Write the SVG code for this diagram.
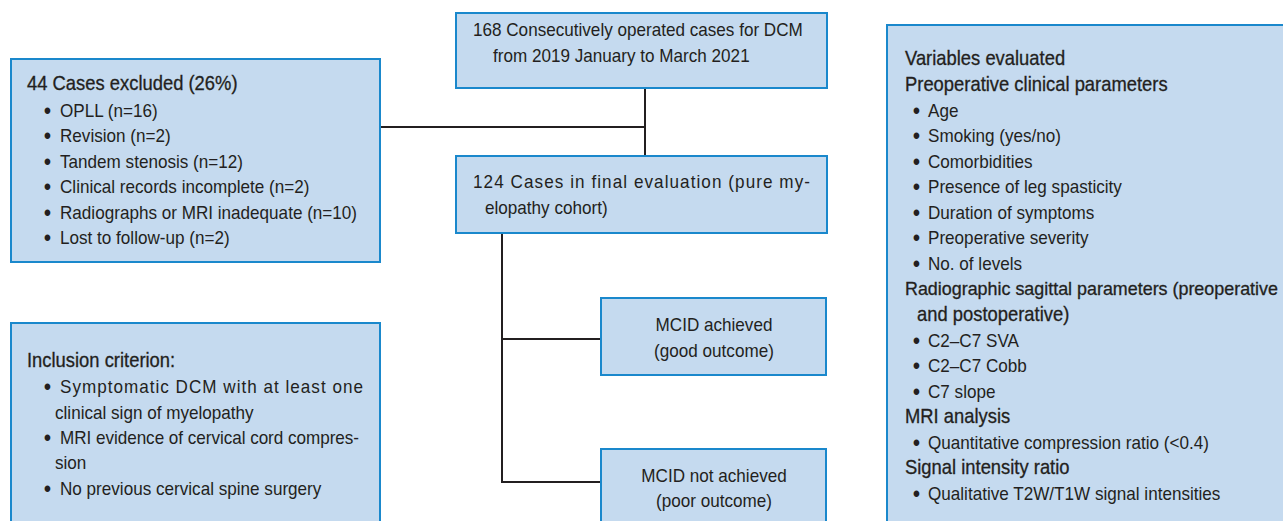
<svg xmlns="http://www.w3.org/2000/svg" width="1283" height="521" viewBox="0 0 1283 521">
<style>
.box{fill:#c5daef;stroke:#1a88cc;stroke-width:2}
text{font-family:"Liberation Sans",Arial,sans-serif;fill:#231f20;font-size:18.6px}
.h{font-size:20px;stroke:#231f20;stroke-width:0.3}
.c{text-anchor:middle}
.b{font-size:23px}
.ln{stroke:#231f20;stroke-width:2;fill:none}
</style>
<rect width="1283" height="521" fill="#ffffff"/>
<g id="connectors">
<path class="ln" d="M380,127 H645"/>
<path class="ln" d="M645,88 V156"/>
<path class="ln" d="M502,233 V482 H601"/>
<path class="ln" d="M502,339 H601"/>
</g>
<g id="excluded">
<rect class="box" x="11" y="59" width="369" height="203"/>
<g transform="scale(0.92,1)">
<text class="h" x="29.35" y="90.5">44 Cases excluded (26%)</text>
<text y="117"><tspan class="b" x="47.5" dy="2">•</tspan><tspan x="65.22" dy="-2">OPLL (n=16)</tspan></text>
<text y="142.5"><tspan class="b" x="47.5" dy="2">•</tspan><tspan x="65.22" dy="-2">Revision (n=2)</tspan></text>
<text y="168"><tspan class="b" x="47.5" dy="2">•</tspan><tspan x="65.22" dy="-2">Tandem stenosis (n=12)</tspan></text>
<text y="193.5"><tspan class="b" x="47.5" dy="2">•</tspan><tspan x="65.22" dy="-2">Clinical records incomplete (n=2)</tspan></text>
<text y="219"><tspan class="b" x="47.5" dy="2">•</tspan><tspan x="65.22" dy="-2">Radiographs or MRI inadequate (n=10)</tspan></text>
<text y="244.5"><tspan class="b" x="47.5" dy="2">•</tspan><tspan x="65.22" dy="-2">Lost to follow-up (n=2)</tspan></text>
</g>
</g>
<g id="inclusion">
<rect class="box" x="11" y="323" width="369" height="210"/>
<g transform="scale(0.92,1)">
<text class="h" x="29.35" y="367">Inclusion criterion:</text>
<text y="393.5"><tspan class="b" x="47.5" dy="2">•</tspan><tspan x="65.22" dy="-2" textLength="329.3" lengthAdjust="spacing">Symptomatic DCM with at least one</tspan></text>
<text x="59.78" y="419">clinical sign of myelopathy</text>
<text y="444"><tspan class="b" x="47.5" dy="2">•</tspan><tspan x="65.22" dy="-2" textLength="325" lengthAdjust="spacing">MRI evidence of cervical cord compres-</tspan></text>
<text x="59.78" y="469.5">sion</text>
<text y="495.5"><tspan class="b" x="47.5" dy="2">•</tspan><tspan x="65.22" dy="-2">No previous cervical spine surgery</tspan></text>
</g>
</g>
<g id="total">
<rect class="box" x="456" y="13" width="371" height="75"/>
<g transform="scale(0.92,1)">
<text x="514.13" y="36.5">168 Consecutively operated cases for DCM</text>
<text x="535.87" y="62">from 2019 January to March 2021</text>
</g>
</g>
<g id="final">
<rect class="box" x="456" y="156" width="371" height="77"/>
<g transform="scale(0.92,1)">
<text x="514.13" y="188.5" textLength="366.3" lengthAdjust="spacing">124 Cases in final evaluation (pure my-</text>
<text x="527.17" y="214">elopathy cohort)</text>
</g>
</g>
<g id="good">
<rect class="box" x="601" y="298" width="225" height="77"/>
<g transform="scale(0.92,1)">
<text class="c" x="776.09" y="331.5">MCID achieved</text>
<text class="c" x="776.09" y="357">(good outcome)</text>
</g>
</g>
<g id="poor">
<rect class="box" x="601" y="449" width="225" height="84"/>
<g transform="scale(0.92,1)">
<text class="c" x="776.09" y="482.5">MCID not achieved</text>
<text class="c" x="776.09" y="507.5">(poor outcome)</text>
</g>
</g>
<g id="variables">
<rect class="box" x="887" y="25" width="410" height="510"/>
<text class="h" x="905" y="295" style="font-size:17.9px">Radiographic sagittal parameters (preoperative</text>
<g transform="scale(0.92,1)">
<text class="h" x="983.7" y="65">Variables evaluated</text>
<text class="h" x="983.7" y="91">Preoperative clinical parameters</text>
<text y="117"><tspan class="b" x="992" dy="2">•</tspan><tspan x="1008.7" dy="-2">Age</tspan></text>
<text y="142.5"><tspan class="b" x="992" dy="2">•</tspan><tspan x="1008.7" dy="-2">Smoking (yes/no)</tspan></text>
<text y="168"><tspan class="b" x="992" dy="2">•</tspan><tspan x="1008.7" dy="-2">Comorbidities</tspan></text>
<text y="193.5"><tspan class="b" x="992" dy="2">•</tspan><tspan x="1008.7" dy="-2">Presence of leg spasticity</tspan></text>
<text y="219"><tspan class="b" x="992" dy="2">•</tspan><tspan x="1008.7" dy="-2">Duration of symptoms</tspan></text>
<text y="244.5"><tspan class="b" x="992" dy="2">•</tspan><tspan x="1008.7" dy="-2">Preoperative severity</tspan></text>
<text y="270"><tspan class="b" x="992" dy="2">•</tspan><tspan x="1008.7" dy="-2">No. of levels</tspan></text>
<text class="h" x="996.74" y="321">and postoperative)</text>
<text y="347"><tspan class="b" x="992" dy="2">•</tspan><tspan x="1008.7" dy="-2">C2–C7 SVA</tspan></text>
<text y="372.5"><tspan class="b" x="992" dy="2">•</tspan><tspan x="1008.7" dy="-2">C2–C7 Cobb</tspan></text>
<text y="398"><tspan class="b" x="992" dy="2">•</tspan><tspan x="1008.7" dy="-2">C7 slope</tspan></text>
<text class="h" x="983.7" y="423">MRI analysis</text>
<text y="449"><tspan class="b" x="992" dy="2">•</tspan><tspan x="1008.7" dy="-2">Quantitative compression ratio (&lt;0.4)</tspan></text>
<text class="h" x="983.7" y="474.5">Signal intensity ratio</text>
<text y="500.5"><tspan class="b" x="992" dy="2">•</tspan><tspan x="1008.7" dy="-2">Qualitative T2W/T1W signal intensities</tspan></text>
</g>
</g>
</svg>
